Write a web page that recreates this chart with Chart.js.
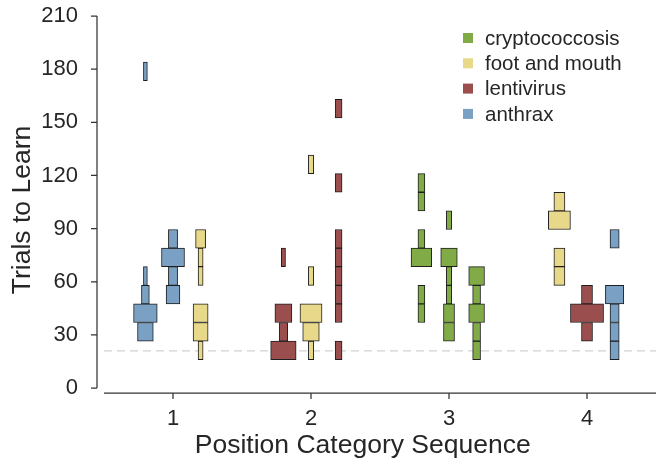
<!DOCTYPE html>
<html>
<head>
<meta charset="utf-8">
<script src="https://cdn.jsdelivr.net/npm/chart.js@4.4.1/dist/chart.umd.min.js"></script>
<style>
  html, body { margin: 0; padding: 0; background: #ffffff; }
  canvas { display: block; }
</style>
</head>
<body>
<canvas id="chart" width="656" height="465"></canvas>
<script>
// Trials needed to learn, binned; one column of boxes per position in each category sequence
const categories = [1, 2, 3, 4];
const diseases = ['cryptococcosis', 'foot and mouth', 'lentivirus', 'anthrax'];
const diseaseColors = ['#80ab47', '#e8d88a', '#9b4e4e', '#7aa0c4'];
const yTicks = [0, 30, 60, 90, 120, 150, 180, 210];
const binEdges = [16, 26.5, 37, 47.5, 58, 68.5, 79, 89.5, 100, 110.5, 121, 131.5, 142, 152.5, 163, 173.5, 184];
const criterion = 21;
const xSpan = [0.5, 4.5];

// columns: category, position within the sequence (1-3), disease, learners per bin
const columnCategory = [1, 1, 1, 2, 2, 2, 3, 3, 3, 4, 4, 4];
const columnPosition = [1, 2, 3, 1, 2, 3, 1, 2, 3, 1, 2, 3];
const columnDisease = [
  'anthrax', 'anthrax', 'foot and mouth',
  'lentivirus', 'foot and mouth', 'lentivirus',
  'cryptococcosis', 'cryptococcosis', 'cryptococcosis',
  'foot and mouth', 'lentivirus', 'anthrax'
];
const binCounts = [
  [0, 4, 6, 2, 1, 0, 0, 0, 0, 0, 0, 0, 0, 0, 0, 1],
  [0, 0, 0, 3, 2, 5, 2, 0, 0, 0, 0, 0, 0, 0, 0, 0],
  [1, 3, 3, 0, 1, 1, 2, 0, 0, 0, 0, 0, 0, 0, 0, 0],
  [6, 2, 4, 0, 0, 1, 0, 0, 0, 0, 0, 0, 0, 0, 0, 0],
  [1, 3, 4, 0, 1, 0, 0, 0, 0, 0, 1, 0, 0, 0, 0, 0],
  [1, 0, 1, 1, 1, 1, 1, 0, 0, 1, 0, 0, 0, 1, 0, 0],
  [0, 0, 1, 1, 0, 3, 1, 0, 1, 1, 0, 0, 0, 0, 0, 0],
  [0, 2, 2, 1, 1, 3, 0, 1, 0, 0, 0, 0, 0, 0, 0, 0],
  [1, 1, 2, 1, 2, 0, 0, 0, 0, 0, 0, 0, 0, 0, 0, 0],
  [0, 0, 0, 0, 1, 1, 0, 2, 1, 0, 0, 0, 0, 0, 0, 0],
  [0, 1, 3, 1, 0, 0, 0, 0, 0, 0, 0, 0, 0, 0, 0, 0],
  [1, 1, 1, 2, 0, 0, 1, 0, 0, 0, 0, 0, 0, 0, 0, 0]
];

const FONT = '"Liberation Sans", Arial, Helvetica, sans-serif';
const TEXT = '#262626';
const columnSpacing = 0.2;   // x distance between neighbouring positions
const columnWidth = 0.4;     // width shared out across a column's boxes

// Each box is a floating horizontal bar: it spans one bin on y and a width
// proportional to that bin's share of the column on x.
const datasets = diseases.map((name, d) => {
  const boxes = [];
  columnDisease.forEach((dis, c) => {
    if (dis !== name) return;
    const counts = binCounts[c];
    const total = counts.reduce((a, b) => a + b, 0);
    const cx = columnCategory[c] + (columnPosition[c] - 2) * columnSpacing;
    counts.forEach((n, b) => {
      if (!n) return;
      const half = (n / total) * columnWidth / 2;
      boxes.push({ y: (binEdges[b] + binEdges[b + 1]) / 2, x: [cx - half, cx + half] });
    });
  });
  return {
    type: 'bar',
    label: name,
    data: boxes,
    indexAxis: 'y',
    grouped: false,
    backgroundColor: diseaseColors[d],
    borderColor: '#1e1e1e',
    borderWidth: 1,
    borderSkipped: false,
    barPercentage: 1,
    categoryPercentage: 1,
    order: 1
  };
});

datasets.push({
  type: 'line',
  label: 'criterion',
  indexAxis: 'x',
  data: [{ x: xSpan[0], y: criterion }, { x: xSpan[1], y: criterion }],
  borderColor: '#d2d2d2',
  borderWidth: 1.3,
  borderDash: [8, 5],
  pointRadius: 0,
  fill: false,
  order: 5
});

// Offset axis lines with outward tick marks
const offsetSpines = {
  id: 'offsetSpines',
  afterDatasetsDraw(chart) {
    const { ctx, scales: { x, y } } = chart;
    const sx = x.getPixelForValue(xSpan[0]) - 7;
    const sy = y.getPixelForValue(0) + 5;
    ctx.save();
    ctx.strokeStyle = '#333333';
    ctx.lineWidth = 1.25;
    ctx.beginPath();
    ctx.moveTo(sx, y.getPixelForValue(yTicks[0]));
    ctx.lineTo(sx, y.getPixelForValue(yTicks[yTicks.length - 1]));
    yTicks.forEach(v => {
      const py = y.getPixelForValue(v);
      ctx.moveTo(sx - 6, py);
      ctx.lineTo(sx, py);
    });
    ctx.moveTo(x.getPixelForValue(xSpan[0]), sy);
    ctx.lineTo(x.getPixelForValue(xSpan[1]), sy);
    categories.forEach(c => {
      const px = x.getPixelForValue(c);
      ctx.moveTo(px, sy);
      ctx.lineTo(px, sy + 6);
    });
    ctx.stroke();
    ctx.restore();
  }
};

// Legend drawn inside the plot, upper right
const insetLegend = {
  id: 'insetLegend',
  afterDraw(chart) {
    const { ctx, chartArea } = chart;
    ctx.save();
    ctx.font = '20.5px ' + FONT;
    ctx.textBaseline = 'middle';
    ctx.textAlign = 'left';
    chart.data.datasets.filter(ds => ds.type === 'bar').forEach((ds, i) => {
      const cy = chartArea.top + 22 + i * 25.3;
      const lx = chartArea.right - 193;
      ctx.fillStyle = ds.backgroundColor;
      ctx.fillRect(lx, cy - 5, 10, 10);
      ctx.fillStyle = TEXT;
      ctx.fillText(ds.label, lx + 22, cy + 1);
    });
    ctx.restore();
  }
};

new Chart(document.getElementById('chart'), {
  type: 'bar',
  data: { datasets },
  plugins: [offsetSpines, insetLegend],
  options: {
    responsive: false,
    devicePixelRatio: 1,
    animation: false,
    indexAxis: 'y',
    layout: { padding: { top: 16, right: 0, bottom: 0, left: 0 } },
    plugins: {
      legend: { display: false },
      tooltip: { enabled: false }
    },
    scales: {
      x: {
        type: 'linear',
        position: 'bottom',
        offset: false,
        min: 0.25,
        max: 4.5,
        afterBuildTicks: s => { s.ticks = categories.map(v => ({ value: v })); },
        afterFit: s => {
          s.height = 61;
          s.paddingLeft = 0; s.paddingRight = 0;
        },
        grid: { display: false, drawTicks: false, offset: false },
        border: { display: false },
        ticks: { font: { family: FONT, size: 22 }, color: TEXT, padding: 1.5, maxRotation: 0 },
        title: {
          display: true,
          text: 'Position Category Sequence',
          font: { family: FONT, size: 26.5, lineHeight: 1.2 },
          color: TEXT,
          padding: { top: 0, bottom: 3 }
        }
      },
      y: {
        type: 'linear',
        position: 'left',
        offset: false,
        min: -9,
        max: 210,
        afterBuildTicks: s => { s.ticks = yTicks.map(v => ({ value: v })); },
        afterFit: s => {
          s.width = 69.5;
          s.paddingTop = 0; s.paddingBottom = 0;
        },
        grid: { display: false, drawTicks: false, offset: false },
        border: { display: false },
        ticks: {
          font: { family: FONT, size: 22 },
          color: TEXT,
          mirror: true,
          crossAlign: 'far',
          padding: -28.2
        },
        title: {
          display: true,
          text: 'Trials to Learn',
          font: { family: FONT, size: 26.5, lineHeight: 1.2 },
          color: TEXT,
          padding: { top: 6.7, bottom: 0 }
        }
      }
    }
  }
});
</script>
</body>
</html>
